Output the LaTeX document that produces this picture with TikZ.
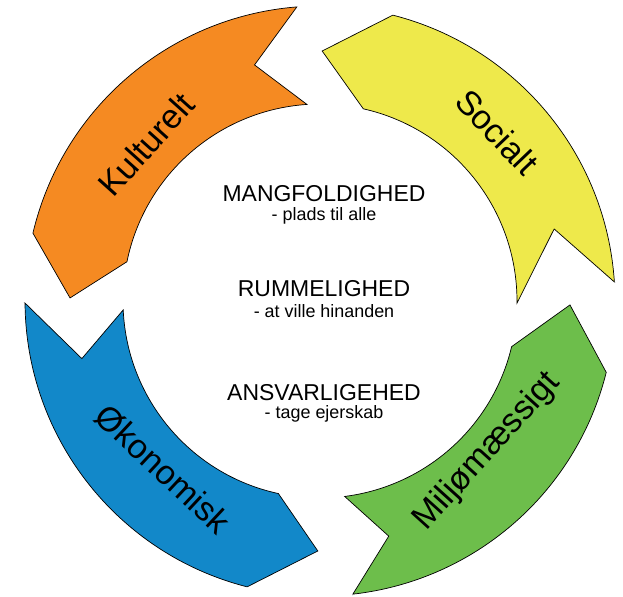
\documentclass[tikz,border=0pt]{standalone}
\usepackage{fontspec}
\setmainfont{Liberation Sans}

\definecolor{kulturorange}{HTML}{F58A22}
\definecolor{socialgul}{HTML}{EEE94B}
\definecolor{oekonomiblaa}{HTML}{1288C9}
\definecolor{miljoegroen}{HTML}{6DBE4B}

% ring arrow: colour, tail outer, tail inner, notch, head outer, head inner, tip
\newcommand{\ringpil}[7]{%
  \filldraw[fill=#1, draw=black, line width=0.6pt]
    (#2:29.5) -- (#4:24.5) -- (#3:19.7)
    arc[start angle=#3, end angle=#6, radius=19.7]
    -- (#7:25) -- (#5:29.5)
    arc[start angle=#5, end angle=#2, radius=29.5] -- cycle;}

\tikzset{
  pil/.style={font=\fontsize{29}{34}\selectfont},
  overskrift/.style={font=\fontsize{19.6}{23}\selectfont, anchor=base},
  undertekst/.style={font=\fontsize{15.3}{18}\selectfont, anchor=base}
}

\begin{document}
\begin{tikzpicture}[scale=0.3]
  \useasboundingbox (-32,-29.5) rectangle (30.3,30.1);

  \ringpil{kulturorange}{94.5}{93.8}{105.5}{166.7}{168.5}{179.3}
  \ringpil{socialgul}{3.7}{-0.6}{17.1}{75.7}{77.3}{89.5}
  \ringpil{oekonomiblaa}{180.4}{182.6}{193.6}{255.7}{257.8}{269.5}
  \ringpil{miljoegroen}{276.4}{277.2}{286.3}{346.0}{346.6}{359.1}

  \node[pil, rotate=48] (kulturelt) at (138:23.4) {Kulturelt};
  \node[pil, rotate=-46.3] (socialt) at (43.7:24.5) {Socialt};
  \node[pil, rotate=-43] (oekonomisk) at (227:23.0) {Økonomisk};
  \node[pil, rotate=47.9] (miljoe) at (-42.1:22.5) {Miljømæssigt};

  \node[overskrift] (mangfold) at (0.4,9.9) {MANGFOLDIGHED};
  \node[undertekst] (mangfoldsub) at (0.4,8.0) {- plads til alle};
  \node[overskrift] (rummelig) at (0.4,0.4) {RUMMELIGHED};
  \node[undertekst] (rummeligsub) at (0.4,-1.6) {- at ville hinanden};
  \node[overskrift] (ansvar) at (0.4,-9.9) {ANSVARLIGEHED};
  \node[undertekst] (ansvarsub) at (0.4,-11.7) {- tage ejerskab};
\end{tikzpicture}
\end{document}
